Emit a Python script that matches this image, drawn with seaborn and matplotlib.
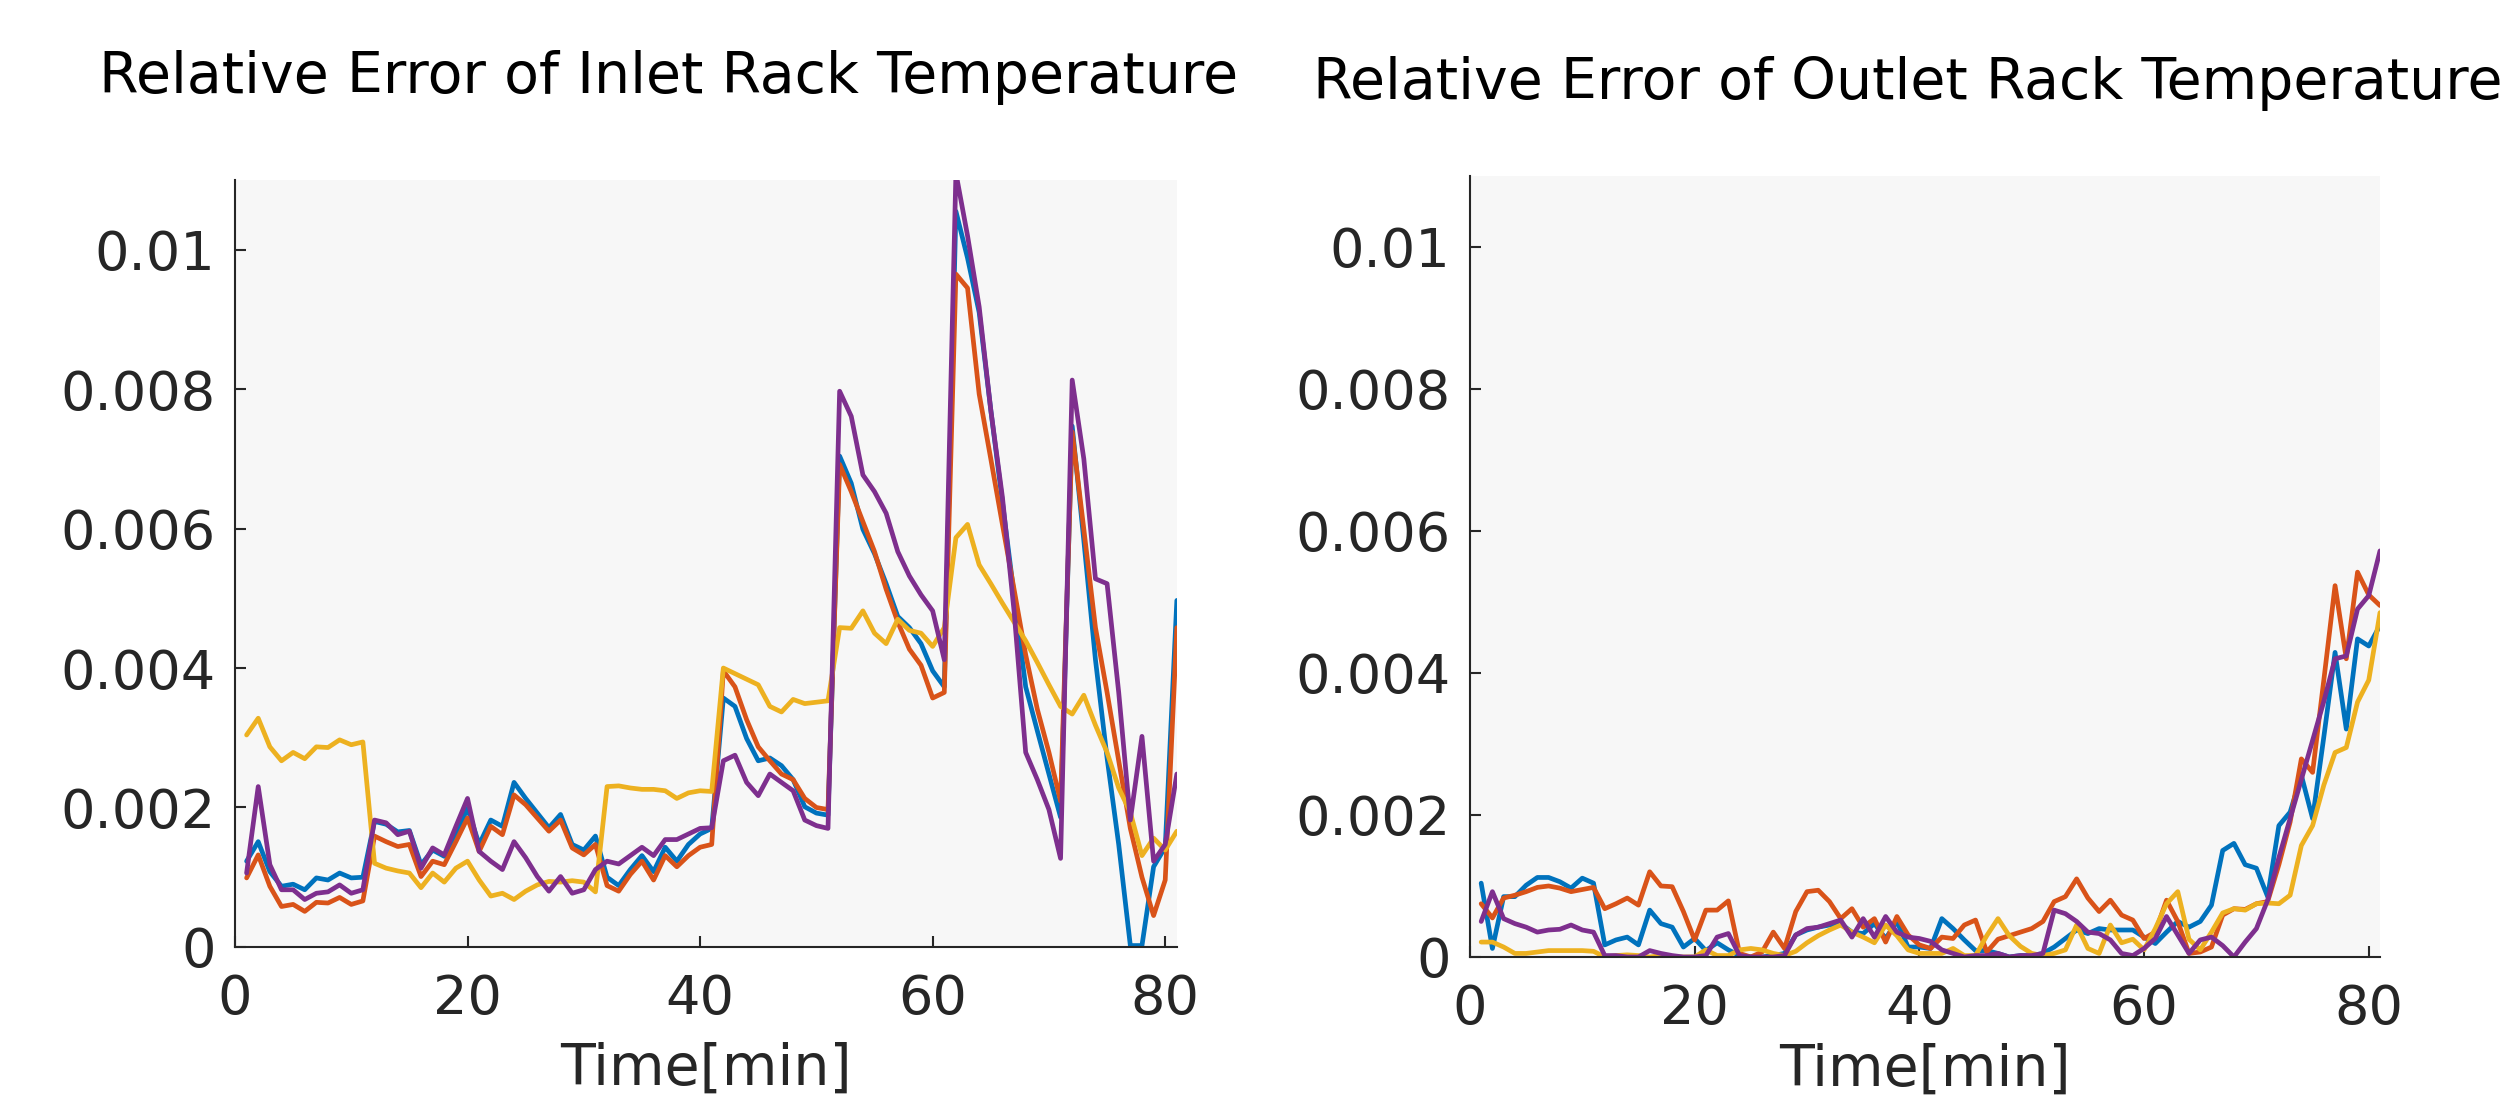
import numpy as np
import pandas as pd
import seaborn as sns
import matplotlib
matplotlib.use("Agg")
import matplotlib.pyplot as plt

# DATA (relative error, units of 1e-3, one value per minute t = 1..81)
time_min = list(range(1, 82))
series_names = ["Case 1", "Case 2", "Case 3", "Case 4"]
matlab_colors = ["#0072BD", "#D95319", "#EDB120", "#7E2F8E"]

inlet_case1 = [1.23, 1.51, 1.08, 0.87, 0.90, 0.82, 0.99, 0.96, 1.06, 0.99, 1.00,
               1.80, 1.76, 1.65, 1.67, 1.18, 1.39, 1.30, 1.61, 1.99, 1.47, 1.82, 1.73, 2.36, 2.13, 1.92, 1.71, 1.90, 1.47, 1.39, 1.59,
               1.00, 0.88, 1.11, 1.31, 1.08, 1.43, 1.23, 1.47, 1.62, 1.70,
               3.57, 3.45, 2.99, 2.67, 2.71, 2.60, 2.40, 2.01, 1.92, 1.89,
               7.04, 6.65, 5.99, 5.64, 5.21, 4.74, 4.58, 4.35, 3.96, 3.73,
               10.55, 9.88, 9.10, 7.70, 6.38, 5.05, 3.73, 3.10, 2.48, 1.86,
               7.47, 5.83, 4.12, 2.71, 1.47, 0.02, 0.02, 1.15, 1.43, 4.97]
inlet_case2 = [0.99, 1.32, 0.87, 0.58, 0.61, 0.51, 0.64, 0.63, 0.71, 0.61, 0.66,
               1.59, 1.51, 1.44, 1.47, 1.01, 1.23, 1.18, 1.51, 1.85, 1.37, 1.73, 1.61, 2.18, 2.04, 1.85, 1.66, 1.82, 1.42, 1.32, 1.47,
               0.88, 0.80, 1.04, 1.23, 0.96, 1.31, 1.15, 1.31, 1.43, 1.47,
               3.96, 3.73, 3.26, 2.87, 2.67, 2.48, 2.40, 2.13, 2.00, 1.97,
               6.92, 6.53, 6.10, 5.67, 5.13, 4.66, 4.27, 4.04, 3.57, 3.65,
               9.65, 9.45, 7.93, 7.00, 6.06, 5.13, 4.19, 3.41, 2.79, 2.09,
               7.39, 5.99, 4.58, 3.65, 2.67, 1.70, 1.00, 0.45, 0.96, 4.58]
inlet_case3 = [3.04, 3.28, 2.87, 2.67, 2.79, 2.70, 2.87, 2.86, 2.97, 2.90, 2.94,
               1.20, 1.13, 1.09, 1.06, 0.85, 1.06, 0.93, 1.13, 1.23, 0.96, 0.73, 0.77, 0.68, 0.80, 0.89, 0.94, 0.93, 0.95, 0.93, 0.79,
               2.30, 2.31, 2.28, 2.26, 2.26, 2.24, 2.13, 2.21, 2.24, 2.23,
               4.00, 3.92, 3.84, 3.76, 3.45, 3.37, 3.55, 3.49, 3.51, 3.53,
               4.58, 4.57, 4.82, 4.50, 4.35, 4.70, 4.54, 4.50, 4.31, 4.58,
               5.87, 6.06, 5.48, 5.21, 4.93, 4.66, 4.39, 4.08, 3.76, 3.45,
               3.34, 3.61, 3.18, 2.79, 2.28, 1.93, 1.31, 1.56, 1.39, 1.66]
inlet_case4 = [1.06, 2.30, 1.18, 0.82, 0.82, 0.68, 0.77, 0.79, 0.89, 0.77, 0.82,
               1.82, 1.78, 1.61, 1.66, 1.13, 1.42, 1.32, 1.73, 2.13, 1.37, 1.23, 1.11, 1.51, 1.28, 1.01, 0.80, 1.01, 0.77, 0.82, 1.11,
               1.23, 1.19, 1.31, 1.43, 1.31, 1.54, 1.54, 1.62, 1.70, 1.71,
               2.67, 2.75, 2.36, 2.17, 2.48, 2.36, 2.24, 1.82, 1.74, 1.70,
               7.97, 7.61, 6.77, 6.53, 6.22, 5.67, 5.32, 5.05, 4.82, 4.12,
               11.10, 10.20, 9.18, 7.70, 6.45, 4.82, 2.79, 2.40, 1.97, 1.27,
               8.13, 7.00, 5.28, 5.21, 3.65, 1.82, 3.02, 1.23, 1.47, 2.48]

outlet_case1 = [1.04, 0.12, 0.85, 0.85, 1.01, 1.12, 1.12, 1.06, 0.97, 1.11, 1.04,
                0.17, 0.24, 0.28, 0.17, 0.66, 0.47, 0.42, 0.14, 0.26, 0.09, 0.20, 0.10, 0.02, 0.00,
                0.00, 0.02, 0.05, 0.31, 0.38, 0.42, 0.45, 0.47, 0.35, 0.33, 0.47, 0.26, 0.50, 0.14, 0.14,
                0.12, 0.54, 0.40, 0.24, 0.09, 0.09, 0.05, 0.00, 0.02, 0.02, 0.05, 0.14, 0.26, 0.38, 0.33,
                0.40, 0.38, 0.38, 0.38, 0.28, 0.19, 0.35, 0.50, 0.42, 0.50, 0.73, 1.50, 1.60, 1.30, 1.25, 0.85,
                1.85, 2.04, 2.56, 1.95, 3.10, 4.29, 3.21, 4.48, 4.38, 4.67]
outlet_case2 = [0.75, 0.55, 0.83, 0.87, 0.92, 0.98, 1.00, 0.97, 0.92, 0.95, 0.98,
                0.68, 0.75, 0.83, 0.73, 1.20, 1.00, 0.99, 0.64, 0.24, 0.66, 0.66, 0.79, 0.05, 0.00,
                0.07, 0.35, 0.12, 0.64, 0.92, 0.94, 0.78, 0.54, 0.68, 0.42, 0.54, 0.21, 0.57, 0.31, 0.17,
                0.12, 0.28, 0.26, 0.45, 0.52, 0.07, 0.25, 0.30, 0.35, 0.40, 0.50, 0.78, 0.85, 1.10, 0.83,
                0.64, 0.80, 0.59, 0.52, 0.26, 0.35, 0.80, 0.50, 0.05, 0.07, 0.14, 0.59, 0.68, 0.67, 0.75, 0.78,
                1.30, 1.90, 2.79, 2.60, 3.90, 5.23, 4.20, 5.42, 5.10, 4.95]
outlet_case3 = [0.21, 0.21, 0.14, 0.05, 0.05, 0.07, 0.09, 0.09, 0.09, 0.09, 0.08,
                0.00, 0.02, 0.03, 0.02, 0.00, 0.02, 0.00, 0.00, 0.00, 0.10, 0.02, 0.02, 0.10, 0.12,
                0.10, 0.05, 0.02, 0.08, 0.20, 0.30, 0.38, 0.45, 0.35, 0.28, 0.20, 0.45, 0.30, 0.10, 0.05,
                0.05, 0.05, 0.12, 0.02, 0.02, 0.30, 0.54, 0.30, 0.15, 0.05, 0.02, 0.05, 0.10, 0.45, 0.12,
                0.05, 0.45, 0.20, 0.25, 0.10, 0.40, 0.75, 0.92, 0.25, 0.10, 0.35, 0.62, 0.68, 0.66, 0.75, 0.76,
                0.75, 0.87, 1.57, 1.85, 2.42, 2.88, 2.95, 3.59, 3.90, 4.85]
outlet_case4 = [0.50, 0.92, 0.54, 0.47, 0.42, 0.35, 0.38, 0.39, 0.45, 0.38, 0.35,
                0.02, 0.02, 0.00, 0.00, 0.09, 0.05, 0.02, 0.00, 0.00, 0.02, 0.28, 0.33, 0.02, 0.00,
                0.00, 0.00, 0.02, 0.31, 0.40, 0.42, 0.47, 0.52, 0.28, 0.54, 0.28, 0.57, 0.35, 0.28, 0.26,
                0.22, 0.10, 0.05, 0.00, 0.02, 0.02, 0.05, 0.00, 0.02, 0.02, 0.05, 0.66, 0.61, 0.50, 0.35,
                0.33, 0.24, 0.05, 0.02, 0.12, 0.26, 0.57, 0.31, 0.05, 0.24, 0.28, 0.16, 0.00, 0.21, 0.40, 0.80,
                1.40, 1.95, 2.50, 3.05, 3.60, 4.20, 4.24, 4.90, 5.09, 5.72]

y_ticks = [0, 0.002, 0.004, 0.006, 0.008, 0.01]
y_tick_labels = ["0", "0.002", "0.004", "0.006", "0.008", "0.01"]
x_ticks = [0, 20, 40, 60, 80]
titles = ["Relative Error of Inlet Rack Temperature",
          "Relative Error of Outlet Rack Temperature"]


def to_long(cases):
    frames = []
    for name, vals in zip(series_names, cases):
        frames.append(pd.DataFrame({"t": time_min,
                                    "err": np.array(vals) * 1e-3,
                                    "case": name}))
    return pd.concat(frames, ignore_index=True)


inlet_df = to_long([inlet_case1, inlet_case2, inlet_case3, inlet_case4])
outlet_df = to_long([outlet_case1, outlet_case2, outlet_case3, outlet_case4])

# STYLE
sns.set_theme(style="ticks")
plt.rcParams["font.family"] = ["DejaVu Sans"]
plt.rcParams["axes.unicode_minus"] = False

fig = plt.figure(figsize=(25.05, 11.02), dpi=100)
ax_in = fig.add_axes([0.0938, 0.1407, 0.3760, 0.6960])
ax_out = fig.add_axes([0.5868, 0.1316, 0.3633, 0.7087])

tick_fs = 39
label_fs = 41
title_fs = 41
for ax, df, lpad in [(ax_in, inlet_df, 12), (ax_out, outlet_df, 5)]:
    sns.lineplot(data=df, x="t", y="err", hue="case", palette=matlab_colors,
                 estimator=None, linewidth=3.4, legend=False, ax=ax)
    ax.set_facecolor("#f7f7f7")
    ax.set_xlim(0, 81)
    ax.set_ylim(0, 0.011)
    ax.set_xticks(x_ticks)
    ax.set_xticklabels([str(v) for v in x_ticks])
    ax.set_yticks(y_ticks)
    ax.set_yticklabels(y_tick_labels)
    ax.tick_params(direction="in", length=8, width=1.5, colors="#262626",
                   labelsize=tick_fs)
    ax.tick_params(axis="x", pad=19)
    ax.tick_params(axis="y", pad=14)
    for side in ["top", "right"]:
        ax.spines[side].set_visible(False)
    for side in ["left", "bottom"]:
        ax.spines[side].set_linewidth(1.5)
        ax.spines[side].set_color("#262626")
    ax.set_ylabel("")
    ax.set_xlabel("Time[min]", fontsize=label_fs, color="#262626", labelpad=lpad)

fig.text(0.0395, 0.916, titles[0], fontsize=title_fs, ha="left", va="baseline", color="black")
fig.text(0.5242, 0.910, titles[1], fontsize=title_fs, ha="left", va="baseline", color="black")

fig.savefig("out.png", dpi=100)
